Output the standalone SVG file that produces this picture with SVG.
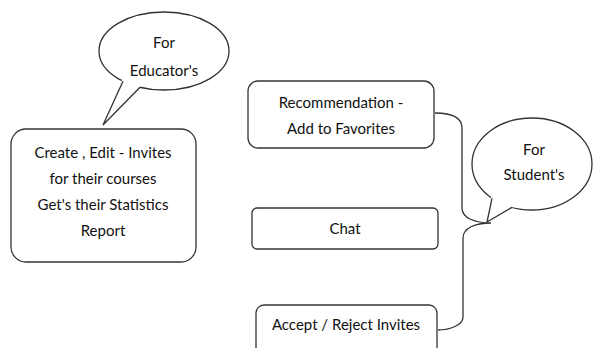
<svg xmlns="http://www.w3.org/2000/svg" width="593" height="348" viewBox="0 0 593 348">
<style>
.s{fill:#fff;stroke:#333;stroke-width:1.3}
.c{fill:none;stroke:#333;stroke-width:1.3}
.f{fill:#fff;stroke:none}
text{font-family:Lato,"Liberation Sans",sans-serif;font-size:15px;fill:#111;text-anchor:middle}
</style>
<rect width="593" height="348" fill="#fff"/>
<g id="educator-bubble">
<ellipse class="s" cx="164" cy="51" rx="65" ry="39"/>
<polygon class="f" points="122,80 103,125 141,86 132,80"/>
<polyline class="c" points="123,81.3 103,125 140,87.2"/>
<text x="164" y="48">For</text>
<text x="164" y="76">Educator's</text>
</g>
<g id="educator-box">
<rect class="s" x="11" y="129" width="185" height="133" rx="15"/>
<text x="103" y="158">Create , Edit - Invites</text>
<text x="103" y="184">for their courses</text>
<text x="103" y="210">Get's their Statistics</text>
<text x="103" y="236">Report</text>
</g>
<g id="recommendation">
<rect class="s" x="248" y="81" width="186" height="67" rx="10"/>
<text x="341" y="108">Recommendation -</text>
<text x="341" y="134">Add to Favorites</text>
</g>
<g id="chat">
<rect class="s" x="252" y="208" width="186" height="41" rx="5"/>
<text x="345" y="234">Chat</text>
</g>
<g id="accept">
<rect class="s" x="256" y="305" width="181" height="60" rx="8"/>
<text x="346" y="330">Accept / Reject Invites</text>
</g>
<g id="connectors">
<path class="c" d="M435,113 C452,113 462,118 462,128 L462,208 C462,218 475,223 491,223 C475,223 463,228 463,238 L463,317 C463,325 450,330 438,330"/>
</g>
<g id="student-bubble">
<ellipse class="s" cx="532" cy="164" rx="60" ry="46"/>
<polygon class="f" points="491,197 487,222 513,206 502,200"/>
<polyline class="c" points="492,198.3 487,222 512,207.4"/>
<text x="534" y="155">For</text>
<text x="534" y="180">Student's</text>
</g>
</svg>
